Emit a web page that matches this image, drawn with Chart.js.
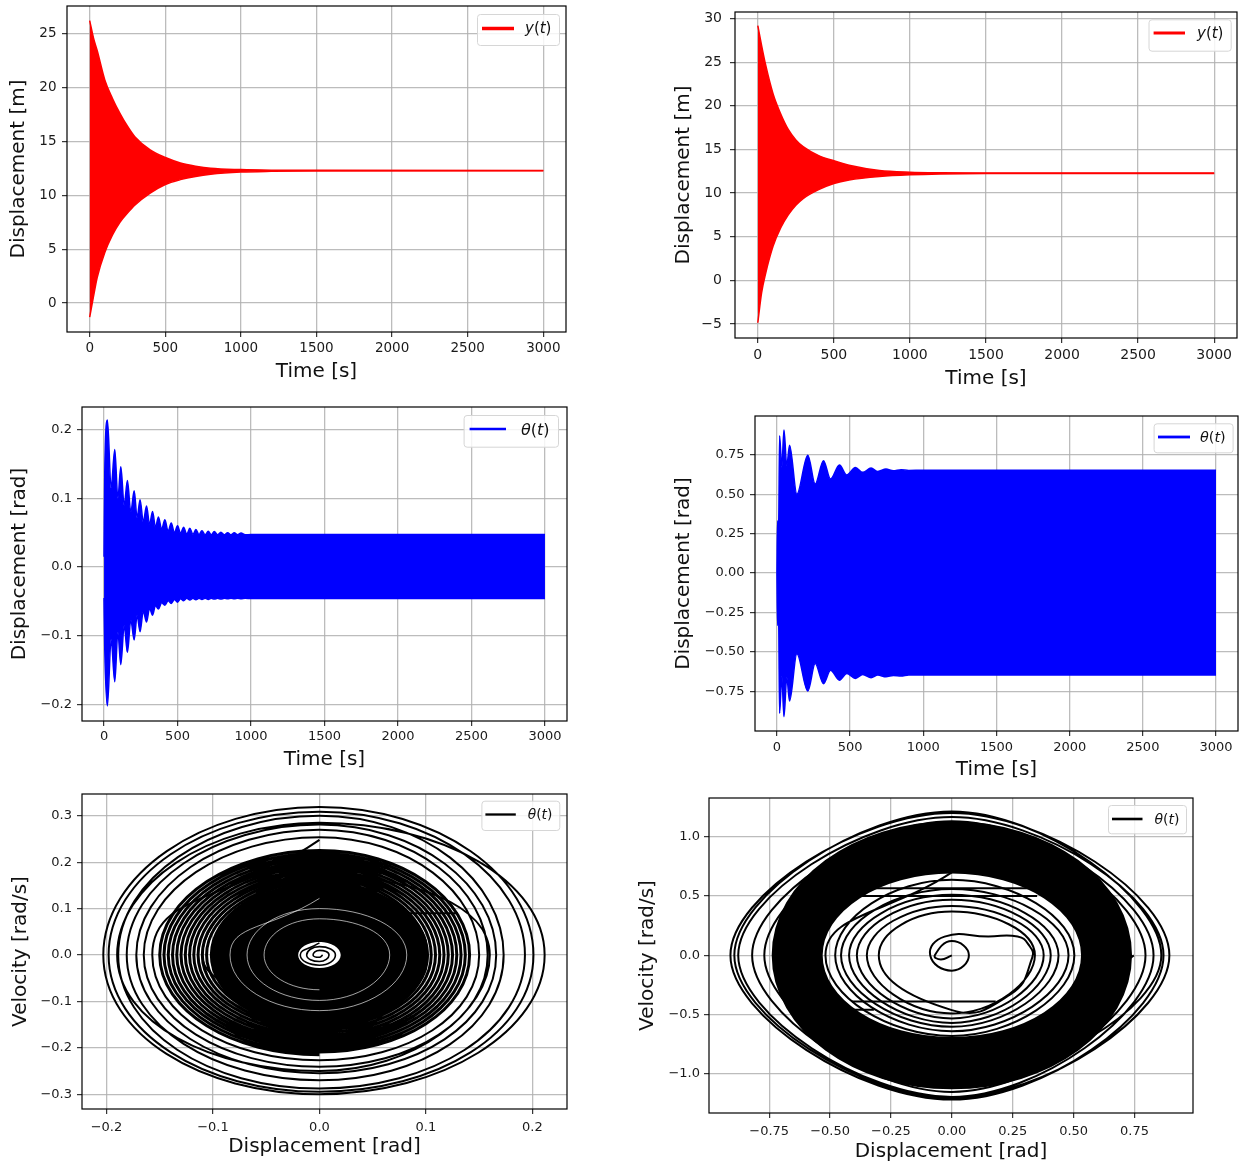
<!DOCTYPE html>
<html>
<head>
<meta charset="utf-8">
<script src="https://cdn.jsdelivr.net/npm/chart.js@4.4.1/dist/chart.umd.min.js"></script>
<style>
  body { margin: 0; background: #fff; width: 1240px; height: 1165px; overflow: hidden; position: relative; }
  canvas { position: absolute; }
</style>
</head>
<body>
<canvas id="c1"></canvas>
<canvas id="c2"></canvas>
<canvas id="c3"></canvas>
<canvas id="c4"></canvas>
<canvas id="c5"></canvas>
<canvas id="c6"></canvas>
<script>
// ---- y(t), left case : upper / lower edge of the oscillation band
var tTopL = [0, 25, 50, 100, 150, 200, 250, 300, 400, 500, 600, 700, 800, 1000, 1200, 1500, 3000];
var yUpL  = [26.2, 24.6, 23.4, 20.7, 19.0, 17.6, 16.4, 15.4, 14.2, 13.5, 13.0, 12.7, 12.5, 12.38, 12.33, 12.31, 12.3];
var yLoL  = [-1.3, 0.6, 2.4, 4.7, 6.3, 7.5, 8.35, 9.1, 10.2, 11.0, 11.45, 11.75, 11.95, 12.15, 12.22, 12.26, 12.27];

// ---- y(t), right case
var tTopR = [0, 25, 50, 100, 150, 200, 250, 300, 400, 500, 600, 800, 1000, 1200, 1500, 3000];
var yUpR  = [29.2, 26.9, 24.8, 21.4, 19.1, 17.3, 16.1, 15.3, 14.3, 13.7, 13.2, 12.6, 12.4, 12.33, 12.3, 12.3];
var yLoR  = [-4.85, -1.4, 0.7, 3.9, 6.0, 7.5, 8.6, 9.4, 10.4, 11.1, 11.5, 11.9, 12.1, 12.2, 12.25, 12.26];

// ---- theta(t), left case : lobe peaks and the dips between them
var tThL  = [0, 5, 23, 48, 73, 94, 114, 137, 159, 182, 205, 225, 245, 267, 289, 310, 330, 350, 370, 392,
             414, 436, 457, 479, 500, 521, 541, 563, 584, 605, 625, 646, 666, 688, 709, 730, 750, 773, 795, 818,
             841, 864, 886, 909, 932, 960, 1000, 3000];
var upThL = [0.015, 0.14, 0.214, 0.115, 0.171, 0.10, 0.146, 0.09, 0.126, 0.08, 0.111, 0.072, 0.098, 0.066, 0.089, 0.062, 0.081, 0.058, 0.073, 0.055,
             0.069, 0.052, 0.064, 0.05, 0.06, 0.049, 0.058, 0.048, 0.0565, 0.0475, 0.0546, 0.0472, 0.053, 0.047, 0.052, 0.047, 0.0517, 0.047, 0.0507, 0.047,
             0.050, 0.047, 0.0498, 0.047, 0.0495, 0.047, 0.0475, 0.0475];
var loThL = [-0.045, -0.12, -0.202, -0.105, -0.167, -0.095, -0.142, -0.085, -0.124, -0.077, -0.106, -0.07, -0.094, -0.064, -0.08, -0.06, -0.07, -0.056, -0.061, -0.052,
             -0.0556, -0.049, -0.053, -0.047, -0.051, -0.046, -0.049, -0.0455, -0.048, -0.0455, -0.0475, -0.0455, -0.047, -0.0455, -0.047, -0.0455, -0.0465, -0.0455, -0.0465, -0.0455,
             -0.046, -0.0455, -0.046, -0.0455, -0.046, -0.0455, -0.0457, -0.0457];

// ---- theta(t), right case
var tThR  = [0, 4, 12, 18, 33, 48, 67, 86, 136, 211, 261, 318, 366, 427, 477, 536, 586, 643, 689, 745, 795, 848, 900, 1000, 3000];
var upThR = [0.0, 0.33, 0.33, 0.87, 0.67, 0.907, 0.68, 0.81, 0.50, 0.747, 0.564, 0.712, 0.596, 0.684, 0.621, 0.669, 0.638, 0.665, 0.644, 0.659, 0.648, 0.655, 0.65, 0.652, 0.652];
var loThR = [0.0, -0.33, -0.33, -0.888, -0.65, -0.909, -0.66, -0.81, -0.51, -0.747, -0.573, -0.70, -0.615, -0.678, -0.636, -0.667, -0.642, -0.663, -0.646, -0.657, -0.648, -0.652, -0.645, -0.645, -0.645];

// ---- phase portrait, left
// solid core (x half-width, velocity half-height) and the white hole in its middle
var coreL = [0.102, 0.156];
var holeL = [0.02, 0.028];
// small curls at the centre: x crossing, then velocity crossing
var curlLx = [0.003, -0.006, 0.009, -0.012, 0.015, -0.018];
var curlLv = [-0.005, 0.01, -0.014, 0.018, -0.022, 0.026];
// thin white gaps seen inside the core
var gapLx = [0.05, -0.052, 0.066, -0.068, 0.082, -0.084];
var gapLv = [-0.075, 0.078, -0.098, 0.1, -0.12, 0.122];
// distinct outer loops
var phLx = [0.05, -0.11, 0.16, -0.19, 0.2115, -0.203, 0.201, -0.198, 0.193, -0.189, 0.173, -0.181, 0.166, -0.172, 0.158, -0.165, 0.15, -0.157];
var phLv = [-0.09, 0.17, -0.25, 0.285, -0.3, 0.319, -0.295, 0.309, -0.288, 0.3, -0.27, 0.281, -0.255, 0.27, -0.241, 0.254, -0.227, 0.248];
// densely packed loops just outside the core
var midLx = [0.145, -0.15, 0.141, -0.146, 0.137, -0.142, 0.133, -0.138, 0.129, -0.134, 0.125, -0.13, 0.121, -0.126,
             0.117, -0.122, 0.113, -0.118, 0.109, -0.114, 0.105, -0.11, 0.101, -0.106, 0.097, -0.1];
var midLv = [-0.215, 0.225, -0.209, 0.219, -0.203, 0.213, -0.197, 0.207, -0.191, 0.201, -0.185, 0.195, -0.179, 0.189,
             -0.173, 0.183, -0.167, 0.177, -0.161, 0.171, -0.155, 0.165, -0.149, 0.159, -0.143, 0.152];
var segLx0 = [0.08], segLx1 = [0.13], segLv = [0.09];

// ---- phase portrait, right
// inner part of the trajectory: centre curl and rings inside the dense band
var inRx = [0, -0.045, -0.07, 0, 0.07, 0, -0.089, -0.03, 0.15, 0.27, 0.315, 0.33, 0.24, 0, -0.30, 0, 0.341, 0, -0.349, 0, 0.377, 0,
            -0.39, 0, 0.406, 0, -0.422, 0, 0.438, 0, -0.455, 0, 0.479, 0, -0.479, 0, 0.503, 0, -0.519, 0];
var inRv = [0, -0.035, 0, 0.12, 0, -0.13, 0, 0.158, 0.158, 0.158, 0.09, -0.02, -0.33, -0.462, 0, 0.369, 0, -0.49, 0, 0.417, 0, -0.532,
            0, 0.468, 0, -0.57, 0, 0.51, 0, -0.603, 0, 0.56, 0, -0.64, 0, 0.637, 0, -0.68, 0, 0.7];
// outer loops
var outRx = [0.747, 0, -0.77, 0, 0.795, 0, -0.82, 0, 0.828, 0, -0.877, 0, 0.869, 0, -0.909, 0, 0.893, 0, -0.893, 0, 0.86, 0, -0.7, 0];
var outRv = [0, -1.096, 0, 1.115, 0, -1.152, 0, 1.13, 0, -1.194, 0, 1.166, 0, -1.217, 0, 1.2, 0, -1.2, 0, 1.214, 0, -1.05, 0, 0.95];
// dense steady-state band, drawn as overlapping loops
var bandRa = [0.555, 0.595, 0.635, 0.675, 0.715];
var bandRb = [0.74, 0.83, 0.915, 1.0, 1.08];
var segRx0 = [-0.66, -0.37, -0.41, -0.67];
var segRx1 = [0.35, 0.42, 0.18, -0.32];
var segRv  = [0.5, 0.565, -0.39, -0.46];

// ---- ticks
var timeTicks = [0, 500, 1000, 1500, 2000, 2500, 3000];
var yTicksTL = [0, 5, 10, 15, 20, 25];
var yTicksTR = [-5, 0, 5, 10, 15, 20, 25, 30];
var yTicksML = [-0.2, -0.1, 0, 0.1, 0.2];
var yTicksMR = [-0.75, -0.5, -0.25, 0, 0.25, 0.5, 0.75];
var xTicksBL = [-0.2, -0.1, 0, 0.1, 0.2];
var yTicksBL = [-0.3, -0.2, -0.1, 0, 0.1, 0.2, 0.3];
var xTicksBR = [-0.75, -0.5, -0.25, 0, 0.25, 0.5, 0.75];
var yTicksBR = [-1, -0.5, 0, 0.5, 1];

var FONT = "'DejaVu Sans', 'Liberation Sans', sans-serif";
var CLEAR = 'rgba(0,0,0,0)';

function fmt(v, d) {
  return (v < 0 ? '\u2212' : '') + Math.abs(v).toFixed(d);
}
function pts(xs, ys) {
  return xs.map(function(x, i) { return {x: x, y: ys[i]}; });
}
// alternate x-axis crossings and velocity crossings into one path
function spiral(xs, vs) {
  var out = [];
  for (var i = 0; i < xs.length; i++) {
    out.push({x: xs[i], y: 0});
    out.push({x: 0, y: vs[i]});
  }
  return out;
}
// closed loop through the four axis crossings; one extra quarter each end so the curve closes smoothly
function ring(a, b) {
  return [{x: -a, y: 0}, {x: 0, y: b}, {x: a, y: 0}, {x: 0, y: -b}, {x: -a, y: 0}, {x: 0, y: b}, {x: a, y: 0}];
}
function hideEnds(ctx) {
  return (ctx.p0DataIndex === 0 || ctx.p1DataIndex === 6) ? CLEAR : undefined;
}
function hideFirst(ctx) {
  return ctx.p0DataIndex === 0 ? CLEAR : undefined;
}
function segs(x0, x1, v, w) {
  return x0.map(function(a, i) {
    return {data: [{x: a, y: v[i]}, {x: x1[i], y: v[i]}], borderColor: '#000', borderWidth: w, fill: false};
  });
}

var legends = {};

var framePlugin = {
  id: 'mplFrame',
  afterDatasetsDraw: function(chart) {
    var a = chart.chartArea, ctx = chart.ctx;
    ctx.save();
    ctx.strokeStyle = '#000';
    ctx.lineWidth = 1.2;
    ctx.strokeRect(a.left, a.top, a.right - a.left, a.bottom - a.top);
    ctx.restore();
  }
};

var legendPlugin = {
  id: 'mplLegend',
  afterDraw: function(chart) {
    var g = legends[chart.canvas.id];
    if (!g) return;
    var ctx = chart.ctx, ox = g.L, oy = g.T;
    var b = g.box;
    ctx.save();
    ctx.beginPath();
    ctx.roundRect(b[0] - ox + 0.5, b[1] - oy + 0.5, b[2] - b[0], b[3] - b[1], 3);
    ctx.fillStyle = 'rgba(255,255,255,0.85)';
    ctx.fill();
    ctx.strokeStyle = '#d6d6d6';
    ctx.lineWidth = 1;
    ctx.stroke();
    ctx.beginPath();
    ctx.moveTo(g.line[0] - ox, g.line[2] - oy);
    ctx.lineTo(g.line[1] - ox, g.line[2] - oy);
    ctx.strokeStyle = g.color;
    ctx.lineWidth = g.lw;
    ctx.stroke();
    ctx.fillStyle = '#111';
    ctx.textBaseline = 'middle';
    var x = g.tx - ox;
    g.label.forEach(function(p) {
      ctx.font = (p[1] ? 'italic ' : '') + g.size + 'px ' + FONT;
      ctx.fillText(p[0], x, g.ty - oy);
      x += ctx.measureText(p[0]).width;
    });
    ctx.restore();
  }
};

function makeChart(c) {
  var L = c.left, T = c.frame[1] - 4, pr = c.padR;
  var yW = c.frame[0] - L;
  var W = c.frame[2] + pr - L;
  var H = c.frame[3] + c.xH - T;
  var el = document.getElementById(c.id);
  el.width = W;
  el.height = H;
  el.style.left = L + 'px';
  el.style.top = T + 'px';
  if (c.legend) { c.legend.L = L; c.legend.T = T; legends[c.id] = c.legend; }
  // Chart.js paints the lowest order last; keep the listed order as painting order
  var n = c.datasets.length;
  c.datasets.forEach(function(d, i) { d.order = n - i; });

  var gridOpts = {color: 'rgba(176,176,176,0.85)', lineWidth: 1.3, tickLength: 5, tickColor: '#222', tickWidth: 1.1};
  return new Chart(el, {
    type: 'line',
    data: {datasets: c.datasets},
    options: {
      responsive: false,
      animation: false,
      devicePixelRatio: 1,
      events: [],
      layout: {padding: {left: 0, top: 4, right: pr, bottom: 0}, autoPadding: false},
      elements: {point: {radius: 0, hitRadius: 0}},
      plugins: {legend: {display: false}, tooltip: {enabled: false}},
      scales: {
        x: {
          type: 'linear', min: c.xr[0], max: c.xr[1], bounds: 'data',
          afterBuildTicks: function(s) { s.ticks = c.xTicks.map(function(v) { return {value: v}; }); },
          afterFit: function(s) { s.height = c.xH; s.paddingLeft = 0; s.paddingRight = 0; },
          ticks: {
            autoSkip: false, maxRotation: 0, padding: c.xPad, color: '#1a1a1a',
            font: {family: FONT, size: c.tickSize},
            callback: function(v) { return fmt(v, c.xDec); }
          },
          grid: gridOpts,
          border: {display: false},
          title: {
            display: true, text: c.xTitle, color: '#111',
            font: {family: FONT, size: 20, lineHeight: 1.2},
            padding: {top: 0, bottom: T + H - 12 - c.xTitleY}
          }
        },
        y: {
          type: 'linear', min: c.yr[0], max: c.yr[1], bounds: 'data',
          afterBuildTicks: function(s) { s.ticks = c.yTicks.map(function(v) { return {value: v}; }); },
          afterFit: function(s) { s.width = yW; s.paddingTop = 0; s.paddingBottom = 0; },
          ticks: {
            autoSkip: false, padding: c.yPad, color: '#1a1a1a',
            font: {family: FONT, size: c.tickSize},
            callback: function(v) { return fmt(v, c.yDec); }
          },
          grid: gridOpts,
          border: {display: false},
          title: {
            display: true, text: c.yTitle, color: '#111',
            font: {family: FONT, size: 20, lineHeight: 1.2},
            padding: {top: c.yTitleX - L - 12, bottom: 0}
          }
        }
      }
    },
    plugins: [framePlugin, legendPlugin]
  });
}

function band(ts, up, lo, color) {
  return [
    {data: pts(ts, up), borderColor: color, borderWidth: 1.5, fill: false, cubicInterpolationMode: 'monotone'},
    {data: pts(ts, lo), borderColor: color, borderWidth: 1.5, backgroundColor: color, fill: '-1', cubicInterpolationMode: 'monotone'}
  ];
}

var yLabel = [['y', 1], ['(', 0], ['t', 1], [')', 0]];
var thLabel = [['\u03b8', 1], ['(', 0], ['t', 1], [')', 0]];

makeChart({
  id: 'c1', left: 0, padR: 4, frame: [67, 6, 566, 332], xH: 60,
  xr: [-150, 3150], yr: [-2.68, 27.55], xTicks: timeTicks, yTicks: yTicksTL, xDec: 0, yDec: 0,
  tickSize: 13.5, xPad: 3, yPad: 5.5, xTitle: 'Time [s]', yTitle: 'Displacement [m]', xTitleY: 372, yTitleX: 19.2,
  datasets: band(tTopL, yUpL, yLoL, '#ff0000'),
  legend: {box: [477, 14, 559, 45], line: [482, 514, 28.5], lw: 3.5, color: '#ff0000', tx: 525, ty: 29.5, size: 15, label: yLabel}
});

makeChart({
  id: 'c2', left: 620, padR: 2, frame: [735, 12, 1237, 338], xH: 60,
  xr: [-150, 3150], yr: [-6.6, 30.75], xTicks: timeTicks, yTicks: yTicksTR, xDec: 0, yDec: 0,
  tickSize: 14, xPad: 3.7, yPad: 8, xTitle: 'Time [s]', yTitle: 'Displacement [m]', xTitleY: 378.5, yTitleX: 684,
  datasets: band(tTopR, yUpR, yLoR, '#ff0000'),
  legend: {box: [1148.5, 19.3, 1230.7, 50.7], line: [1153.6, 1185, 33], lw: 3, color: '#ff0000', tx: 1197, ty: 34, size: 15, label: yLabel}
});

makeChart({
  id: 'c3', left: 0, padR: 4, frame: [82, 407, 567, 721], xH: 60,
  xr: [-150, 3150], yr: [-0.224, 0.233], xTicks: timeTicks, yTicks: yTicksML, xDec: 0, yDec: 1,
  tickSize: 13, xPad: 3.2, yPad: 5, xTitle: 'Time [s]', yTitle: 'Displacement [rad]', xTitleY: 760, yTitleX: 19.8,
  datasets: band(tThL, upThL, loThL, '#0000ff'),
  legend: {box: [463.6, 415, 558, 446.7], line: [469.6, 506, 429], lw: 2.7, color: '#0000ff', tx: 521, ty: 431, size: 16, label: thLabel}
});

makeChart({
  id: 'c4', left: 620, padR: 2, frame: [755, 416, 1238, 731], xH: 60,
  xr: [-150, 3150], yr: [-1.0, 0.995], xTicks: timeTicks, yTicks: yTicksMR, xDec: 0, yDec: 2,
  tickSize: 13, xPad: 4.2, yPad: 5.5, xTitle: 'Time [s]', yTitle: 'Displacement [rad]', xTitleY: 770, yTitleX: 684,
  datasets: band(tThR, upThR, loThR, '#0000ff'),
  legend: {box: [1153.6, 423.3, 1232.6, 452.3], line: [1158, 1190, 437], lw: 2.8, color: '#0000ff', tx: 1200, ty: 438, size: 14.4, label: thLabel}
});

makeChart({
  id: 'c5', left: 0, padR: 4, frame: [82, 794, 567, 1109], xH: 54,
  xr: [-0.223, 0.2325], yr: [-0.332, 0.347], xTicks: xTicksBL, yTicks: yTicksBL, xDec: 1, yDec: 1,
  tickSize: 13, xPad: 5.5, yPad: 5, xTitle: 'Displacement [rad]', yTitle: 'Velocity [rad/s]', xTitleY: 1146.5, yTitleX: 20.8,
  datasets: [
    {data: ring(coreL[0], coreL[1]), borderColor: '#000', borderWidth: 2, backgroundColor: '#000', fill: 'shape', tension: 0.55},
    {data: spiral(phLx, phLv), borderColor: '#000', borderWidth: 2, fill: false, tension: 0.55, segment: {borderColor: hideFirst}},
    {data: spiral(midLx, midLv), borderColor: '#000', borderWidth: 3, fill: false, tension: 0.55, segment: {borderColor: hideFirst}},
    {data: spiral(gapLx, gapLv), borderColor: 'rgba(255,255,255,0.8)', borderWidth: 0.8, fill: false, tension: 0.55, segment: {borderColor: hideFirst}},
    {data: ring(holeL[0], holeL[1]), borderColor: CLEAR, borderWidth: 0, backgroundColor: '#fff', fill: 'shape', tension: 0.55},
    {data: spiral(curlLx, curlLv), borderColor: '#000', borderWidth: 1.6, fill: false, tension: 0.55}
  ].concat(segs(segLx0, segLx1, segLv, 2)),
  legend: {box: [481.4, 800.7, 559.3, 830], line: [485.4, 515.8, 814.5], lw: 2.3, color: '#000', tx: 527.7, ty: 815.5, size: 13.8, label: thLabel}
});

makeChart({
  id: 'c6', left: 620, padR: 4, frame: [709, 798, 1193, 1113], xH: 54,
  xr: [-0.997, 0.99], yr: [-1.33, 1.327], xTicks: xTicksBR, yTicks: yTicksBR, xDec: 2, yDec: 1,
  tickSize: 13, xPad: 5.5, yPad: 4, xTitle: 'Displacement [rad]', yTitle: 'Velocity [rad/s]', xTitleY: 1151.5, yTitleX: 647.5,
  datasets: bandRa.map(function(a, i) {
    return {data: ring(a, bandRb[i]), borderColor: '#000', borderWidth: 12, fill: false, tension: 0.55, segment: {borderColor: hideEnds}};
  }).concat([
    {data: pts(inRx, inRv), borderColor: '#000', borderWidth: 2, fill: false, tension: 0.5},
    {data: pts(outRx, outRv), borderColor: '#000', borderWidth: 2, fill: false, tension: 0.42}
  ]).concat(segs(segRx0, segRx1, segRv, 2)),
  legend: {box: [1108, 805, 1186, 833.3], line: [1112, 1142.5, 819], lw: 2.6, color: '#000', tx: 1154.4, ty: 820, size: 14, label: thLabel}
});
</script>
</body>
</html>
